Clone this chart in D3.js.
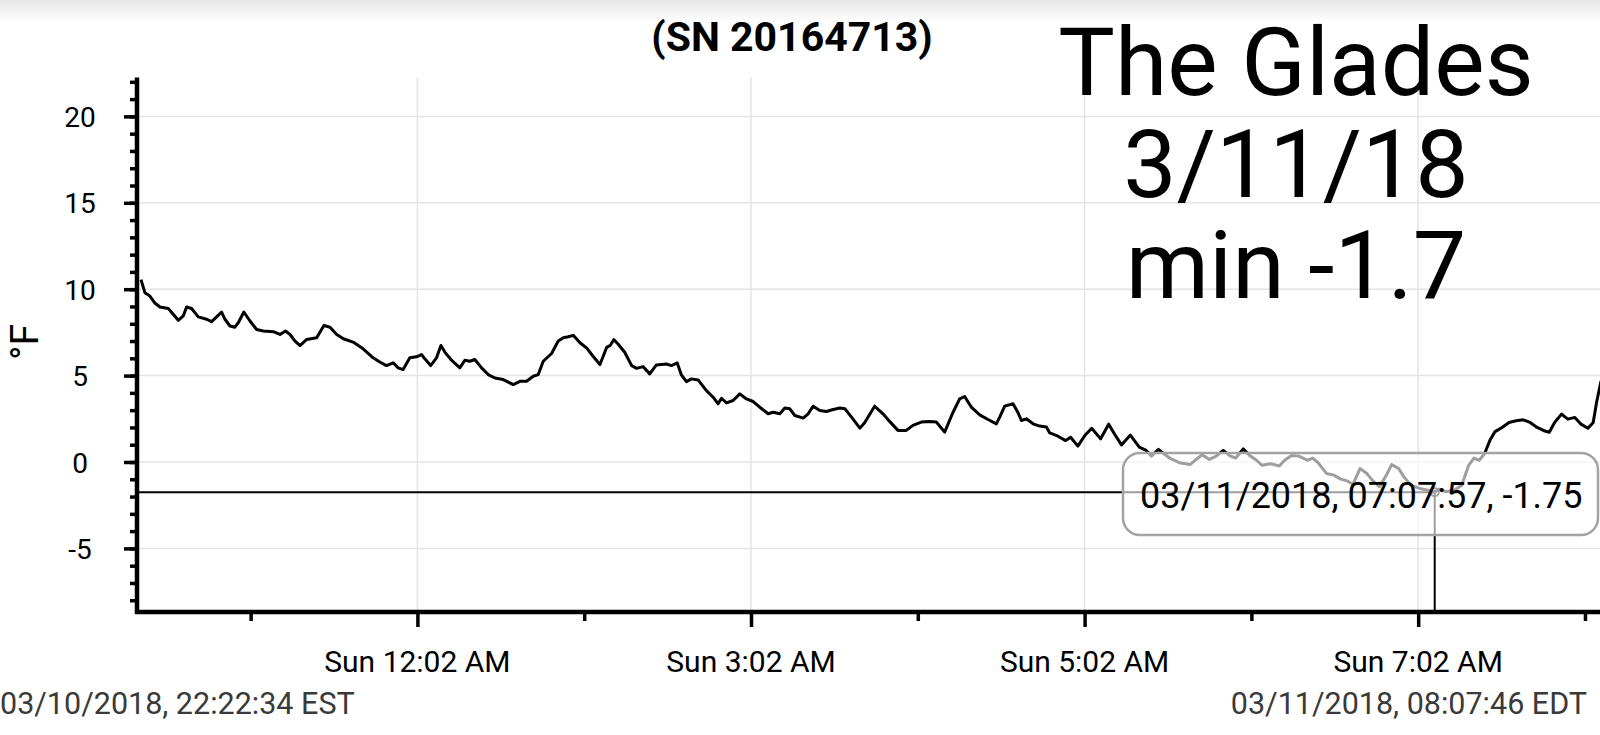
<!DOCTYPE html>
<html>
<head>
<meta charset="utf-8">
<script src="https://cdn.jsdelivr.net/npm/d3@7"></script>
<style>
  html, body { margin: 0; padding: 0; background: #fff; overflow: hidden; }
  svg { display: block; font-family: Roboto, "Noto Sans", sans-serif; }
</style>
</head>
<body>
<div id="chart"></div>
<script>
// logger run: 03/10/2018 22:22:34 EST -> 03/11/2018 08:07:46 EDT (stored as UTC)
var startTime = "2018-03-11T03:22:34Z";
var endTime = "2018-03-11T12:07:46Z";

// minutes since start
var elapsedMin = [
  0, 1.4, 3.2, 5.0, 6.8, 9.8, 11.6, 13.4, 15.2, 16.4, 18.2, 20.6, 23.6, 25.4, 27.2, 29.0,
  30.2, 32.0, 33.8, 35.0, 37.0, 39.2, 41.6, 44.0, 47.6, 50.0, 52.0, 53.6, 55.4, 57.2, 59.6,
  63.2, 65.8, 68.0, 70.4, 72.8, 76.3, 79.9, 83.5, 85.9, 88.3, 90.7, 92.5, 94.3, 96.7, 99.1,
  100.9, 102.1, 104.2, 106.3, 107.9, 109.3, 111.7, 114.7, 116.5, 118.3, 120.1, 122.5, 124.9,
  127.3, 130.3, 133.9, 136.3, 138.7, 141.1, 142.9, 144.7, 147.7, 150.1, 151.9, 153.7, 155.5,
  157.9, 160.3, 162.6, 165.1, 167.5, 168.7, 170.1, 171.6, 174.0, 176.5, 178.3, 180.6, 183.0,
  185.4, 189.0, 190.8, 192.9, 194.4, 196.2, 198.0, 200.4, 203.4, 205.8, 207.6, 208.8, 210.6,
  213.0, 215.4, 217.8, 220.2, 222.6, 225.6, 227.4, 229.8, 231.6, 233.4, 235.2, 238.2, 240.0,
  241.8, 244.2, 246.6, 249.0, 251.4, 253.2, 255.6, 258.6, 260.3, 263.9, 266.9, 269.3, 272.3,
  275.3, 277.7, 280.7, 283.7, 286.1, 289.1, 292.1, 294.5, 296.3, 298.7, 301.7, 304.7, 307.7,
  308.9, 310.7, 313.7, 315.5, 316.7, 318.5, 320.9, 323.3, 325.7, 326.9, 329.4, 332.6, 334.4,
  337.0, 339.5, 342.0, 345.2, 348.1, 350.2, 352.7, 355.9, 359.1, 361.6, 363.5, 366.0, 367.9,
  370.4, 373.5, 377.4, 379.9, 381.7, 384.3, 386.8, 389.3, 391.9, 393.8, 396.5, 398.8, 401.3,
  403.2, 406.4, 409.5, 411.4, 413.9, 416.5, 419.6, 421.5, 423.4, 426.5, 429.1, 431.6, 434.1,
  436.0, 438.5, 441.0, 442.9, 445.5, 448.0, 449.9, 452.4, 454.3, 456.8, 460.0, 462.5, 465.4,
  466.9, 469.4, 472.6, 475.1, 477.6, 479.5, 481.4, 483.3, 485.2, 487.1, 489.6, 492.1, 494.7,
  497.2, 499.7, 502.2, 504.7, 506.6, 508.5, 511.0, 513.3, 515.8, 518.0, 520.5, 522.4, 523.6, 525.2
];

// temperature, deg F
var tempF = [
  10.55, 9.8, 9.6, 9.2, 8.97, 8.88, 8.55, 8.2, 8.45, 8.97, 8.88, 8.4, 8.26, 8.12, 8.4, 8.68,
  8.26, 7.87, 7.8, 8.06, 8.68, 8.16, 7.67, 7.58, 7.54, 7.38, 7.58, 7.38, 7.0, 6.74, 7.09,
  7.19, 7.9, 7.8, 7.38, 7.13, 6.94, 6.55, 6.03, 5.79, 5.58, 5.74, 5.45, 5.35, 6.03, 6.09,
  6.22, 5.97, 5.58, 6.03, 6.74, 6.36, 5.89, 5.45, 5.89, 5.83, 5.93, 5.45, 5.06,
  4.86, 4.77, 4.48, 4.67, 4.67, 4.96, 5.06, 5.83, 6.28, 7.0, 7.19, 7.25, 7.33,
  6.9, 6.6, 6.12, 5.64, 6.63, 6.73, 7.08, 6.83, 6.35, 5.58, 5.42, 5.52, 5.1,
  5.62, 5.67, 5.58, 5.73, 5.04, 4.65, 4.81, 4.75, 4.13, 3.75, 3.37, 3.69, 3.42,
  3.56, 3.94, 3.65, 3.5, 3.17, 2.79, 2.88, 2.79, 3.12, 3.08, 2.69, 2.54, 2.79,
  3.23, 2.98, 2.92, 3.04, 3.12, 3.08, 2.6, 1.96, 2.27, 3.23, 2.79, 2.35, 1.83,
  1.83, 2.12, 2.31, 2.35, 2.31, 1.73, 2.88, 3.65, 3.79, 3.17, 2.73, 2.46, 2.21,
  2.6, 3.23, 3.37, 2.85, 2.4, 2.5, 2.21, 2.08, 2.02, 1.68, 1.53, 1.24, 1.43,
  0.92, 1.53, 1.95, 1.34, 2.19, 1.62, 0.99, 1.56, 0.86, 0.67, 0.34, 0.73, 0.48,
  0.19, -0.04, -0.15, 0.19, 0.42, 0.15, 0.34, 0.67, 0.34, 0.23, 0.76, 0.38, 0.1,
  -0.19, -0.1, -0.23, 0.1, 0.38, 0.34, 0.1, 0.23, -0.04, -0.67, -0.76, -0.99, -1.11,
  -1.3, -0.38, -0.67, -1.05, -1.43, -0.76, -0.15, -0.38, -0.86, -1.34, -1.53, -1.62, -1.75,
  -1.57, -1.72, -1.62, -1.34, -0.19, 0.23, 0.1, 0.48, 1.24, 1.76, 2.0, 2.29, 2.39,
  2.44, 2.29, 2.0, 1.81, 1.72, 2.29, 2.77, 2.48, 2.58, 2.19, 1.95, 2.29, 3.44, 4.68
];

var yMajorTicks = [-5, 0, 5, 10, 15, 20];
var yMinorTicks = d3.range(-8, 23);
var xMajorTicks = ["2018-03-11T05:02:00Z", "2018-03-11T07:02:00Z", "2018-03-11T09:02:00Z", "2018-03-11T11:02:00Z"];
var xTickLabels = ["Sun 12:02 AM", "Sun 3:02 AM", "Sun 5:02 AM", "Sun 7:02 AM"];
var xMinorTicks = ["2018-03-11T04:02:00Z", "2018-03-11T06:02:00Z", "2018-03-11T08:02:00Z", "2018-03-11T10:02:00Z", "2018-03-11T12:02:00Z"];

var minTime = "2018-03-11T11:07:57Z";
var minTemp = -1.75;
var minLabel = "03/11/2018, 07:07:57, -1.75";

var titleText = "(SN 20164713)";
var noteLines = ["The Glades", "3/11/18", "min -1.7"];
var startLabel = "03/10/2018, 22:22:34 EST";
var endLabel = "03/11/2018, 08:07:46 EDT";
var yLabel = "\u00B0F";

var width = 1600;
var height = 735;
var plotLeft = 137;
var plotTop = 77.5;
var plotBottom = 612;

var t0 = new Date(startTime);
var points = elapsedMin.map(function(m, i) {
  return { date: new Date(t0.getTime() + m * 60000), value: tempF[i] };
});

var x = d3.scaleUtc()
  .domain([t0, new Date(endTime)])
  .range([141, 1601]);

var y = d3.scaleLinear()
  .domain([-8.68, 22.25])
  .range([plotBottom, plotTop]);

var svg = d3.select("#chart")
  .append("svg")
  .attr("width", width)
  .attr("height", height);

// status bar shadow at the very top
var defs = svg.append("defs");
var grad = defs.append("linearGradient")
  .attr("id", "topShade")
  .attr("x1", 0).attr("y1", 0).attr("x2", 0).attr("y2", 1);
grad.append("stop").attr("offset", "0%").attr("stop-color", "#e6e6e6");
grad.append("stop").attr("offset", "100%").attr("stop-color", "#ffffff");
svg.append("rect")
  .attr("x", 0).attr("y", 0)
  .attr("width", width).attr("height", 22)
  .style("fill", "url(#topShade)");

// grid
svg.append("g").selectAll("line")
  .data(yMajorTicks)
  .enter().append("line")
  .attr("x1", plotLeft).attr("x2", width)
  .attr("y1", function(d) { return y(d); })
  .attr("y2", function(d) { return y(d); })
  .style("stroke", "#e4e4e4")
  .style("stroke-width", 1.5);

svg.append("g").selectAll("line")
  .data(xMajorTicks)
  .enter().append("line")
  .attr("x1", function(d) { return x(new Date(d)); })
  .attr("x2", function(d) { return x(new Date(d)); })
  .attr("y1", plotTop).attr("y2", plotBottom)
  .style("stroke", "#e4e4e4")
  .style("stroke-width", 1.5);

// temperature trace
var line = d3.line()
  .x(function(d) { return x(d.date); })
  .y(function(d) { return y(d.value); });

svg.append("path")
  .datum(points)
  .attr("d", line)
  .style("fill", "none")
  .style("stroke", "#000")
  .style("stroke-width", 3)
  .style("stroke-linejoin", "round");

// crosshair on the minimum
var mx = x(new Date(minTime));
var my = y(minTemp);
svg.append("line")
  .attr("x1", plotLeft).attr("x2", mx)
  .attr("y1", my).attr("y2", my)
  .style("stroke", "#000").style("stroke-width", 2);
svg.append("line")
  .attr("x1", mx).attr("x2", mx)
  .attr("y1", my).attr("y2", plotBottom)
  .style("stroke", "#000").style("stroke-width", 2);
svg.append("circle")
  .attr("cx", mx).attr("cy", my).attr("r", 4)
  .style("fill", "none").style("stroke", "#000").style("stroke-width", 2);

// tooltip box
svg.append("rect")
  .attr("x", 1123).attr("y", 453)
  .attr("width", 475).attr("height", 82)
  .attr("rx", 17).attr("ry", 17)
  .style("fill", "#fff")
  .style("fill-opacity", 0.62)
  .style("stroke", "#a3a3a3")
  .style("stroke-width", 2.5);

svg.append("text")
  .attr("x", 1140).attr("y", 508)
  .style("font-size", "36px")
  .style("fill", "#000")
  .text(minLabel);

// axes
var yAxisMajor = d3.axisLeft(y).tickValues(yMajorTicks).tickSize(13).tickSizeOuter(0).tickFormat("");
var yAxisMinor = d3.axisLeft(y).tickValues(yMinorTicks).tickSize(7).tickSizeOuter(0).tickFormat("");
var xAxisMajor = d3.axisBottom(x).tickValues(xMajorTicks.map(function(d) { return new Date(d); }))
  .tickSize(15).tickSizeOuter(0).tickFormat("");
var xAxisMinor = d3.axisBottom(x).tickValues(xMinorTicks.map(function(d) { return new Date(d); }))
  .tickSize(9).tickSizeOuter(0).tickFormat("");

[yAxisMinor, yAxisMajor].forEach(function(ax) {
  var g = svg.append("g").attr("transform", "translate(" + plotLeft + ",0)").call(ax);
  g.select(".domain").remove();
  g.selectAll(".tick line").style("stroke", "#000").style("stroke-width", 3.5);
});
[xAxisMinor, xAxisMajor].forEach(function(ax) {
  var g = svg.append("g").attr("transform", "translate(0," + plotBottom + ")").call(ax);
  g.select(".domain").remove();
  g.selectAll(".tick line").style("stroke", "#000").style("stroke-width", 3.5);
});

svg.append("line")
  .attr("x1", plotLeft).attr("x2", plotLeft)
  .attr("y1", plotTop).attr("y2", plotBottom + 2)
  .style("stroke", "#000").style("stroke-width", 4.5);
svg.append("line")
  .attr("x1", plotLeft - 2).attr("x2", width)
  .attr("y1", plotBottom).attr("y2", plotBottom)
  .style("stroke", "#000").style("stroke-width", 4.5);

// tick labels
svg.append("g").selectAll("text")
  .data(yMajorTicks)
  .enter().append("text")
  .attr("x", 80)
  .attr("y", function(d) { return y(d) + 10.5; })
  .attr("text-anchor", "middle")
  .style("font-size", "28px")
  .style("fill", "#000")
  .text(function(d) { return d; });

svg.append("g").selectAll("text")
  .data(xMajorTicks)
  .enter().append("text")
  .attr("x", function(d) { return x(new Date(d)); })
  .attr("y", 672)
  .attr("text-anchor", "middle")
  .style("font-size", "30px")
  .style("fill", "#000")
  .text(function(d, i) { return xTickLabels[i]; });

svg.append("text")
  .attr("transform", "translate(37.5,342) rotate(-90)")
  .attr("text-anchor", "middle")
  .style("font-size", "39px")
  .style("fill", "#000")
  .text(yLabel);

// range labels under the axis
svg.append("text")
  .attr("x", 0).attr("y", 714)
  .style("font-size", "30.5px")
  .style("fill", "#3a3a3a")
  .text(startLabel);
svg.append("text")
  .attr("x", 1587).attr("y", 714)
  .attr("text-anchor", "end")
  .style("font-size", "30.5px")
  .style("fill", "#3a3a3a")
  .text(endLabel);

// title
svg.append("text")
  .attr("x", 792).attr("y", 51)
  .attr("text-anchor", "middle")
  .style("font-size", "41px")
  .style("font-weight", "bold")
  .style("fill", "#000")
  .text(titleText);

// note written over the screenshot, one text block
var note = svg.append("text")
  .attr("text-anchor", "middle")
  .style("font-size", "95px")
  .style("fill", "#000");
note.selectAll("tspan")
  .data(noteLines)
  .enter().append("tspan")
  .attr("x", 1296)
  .attr("y", function(d, i) { return 95 + i * 101.5; })
  .text(function(d) { return d; });
</script>
</body>
</html>
